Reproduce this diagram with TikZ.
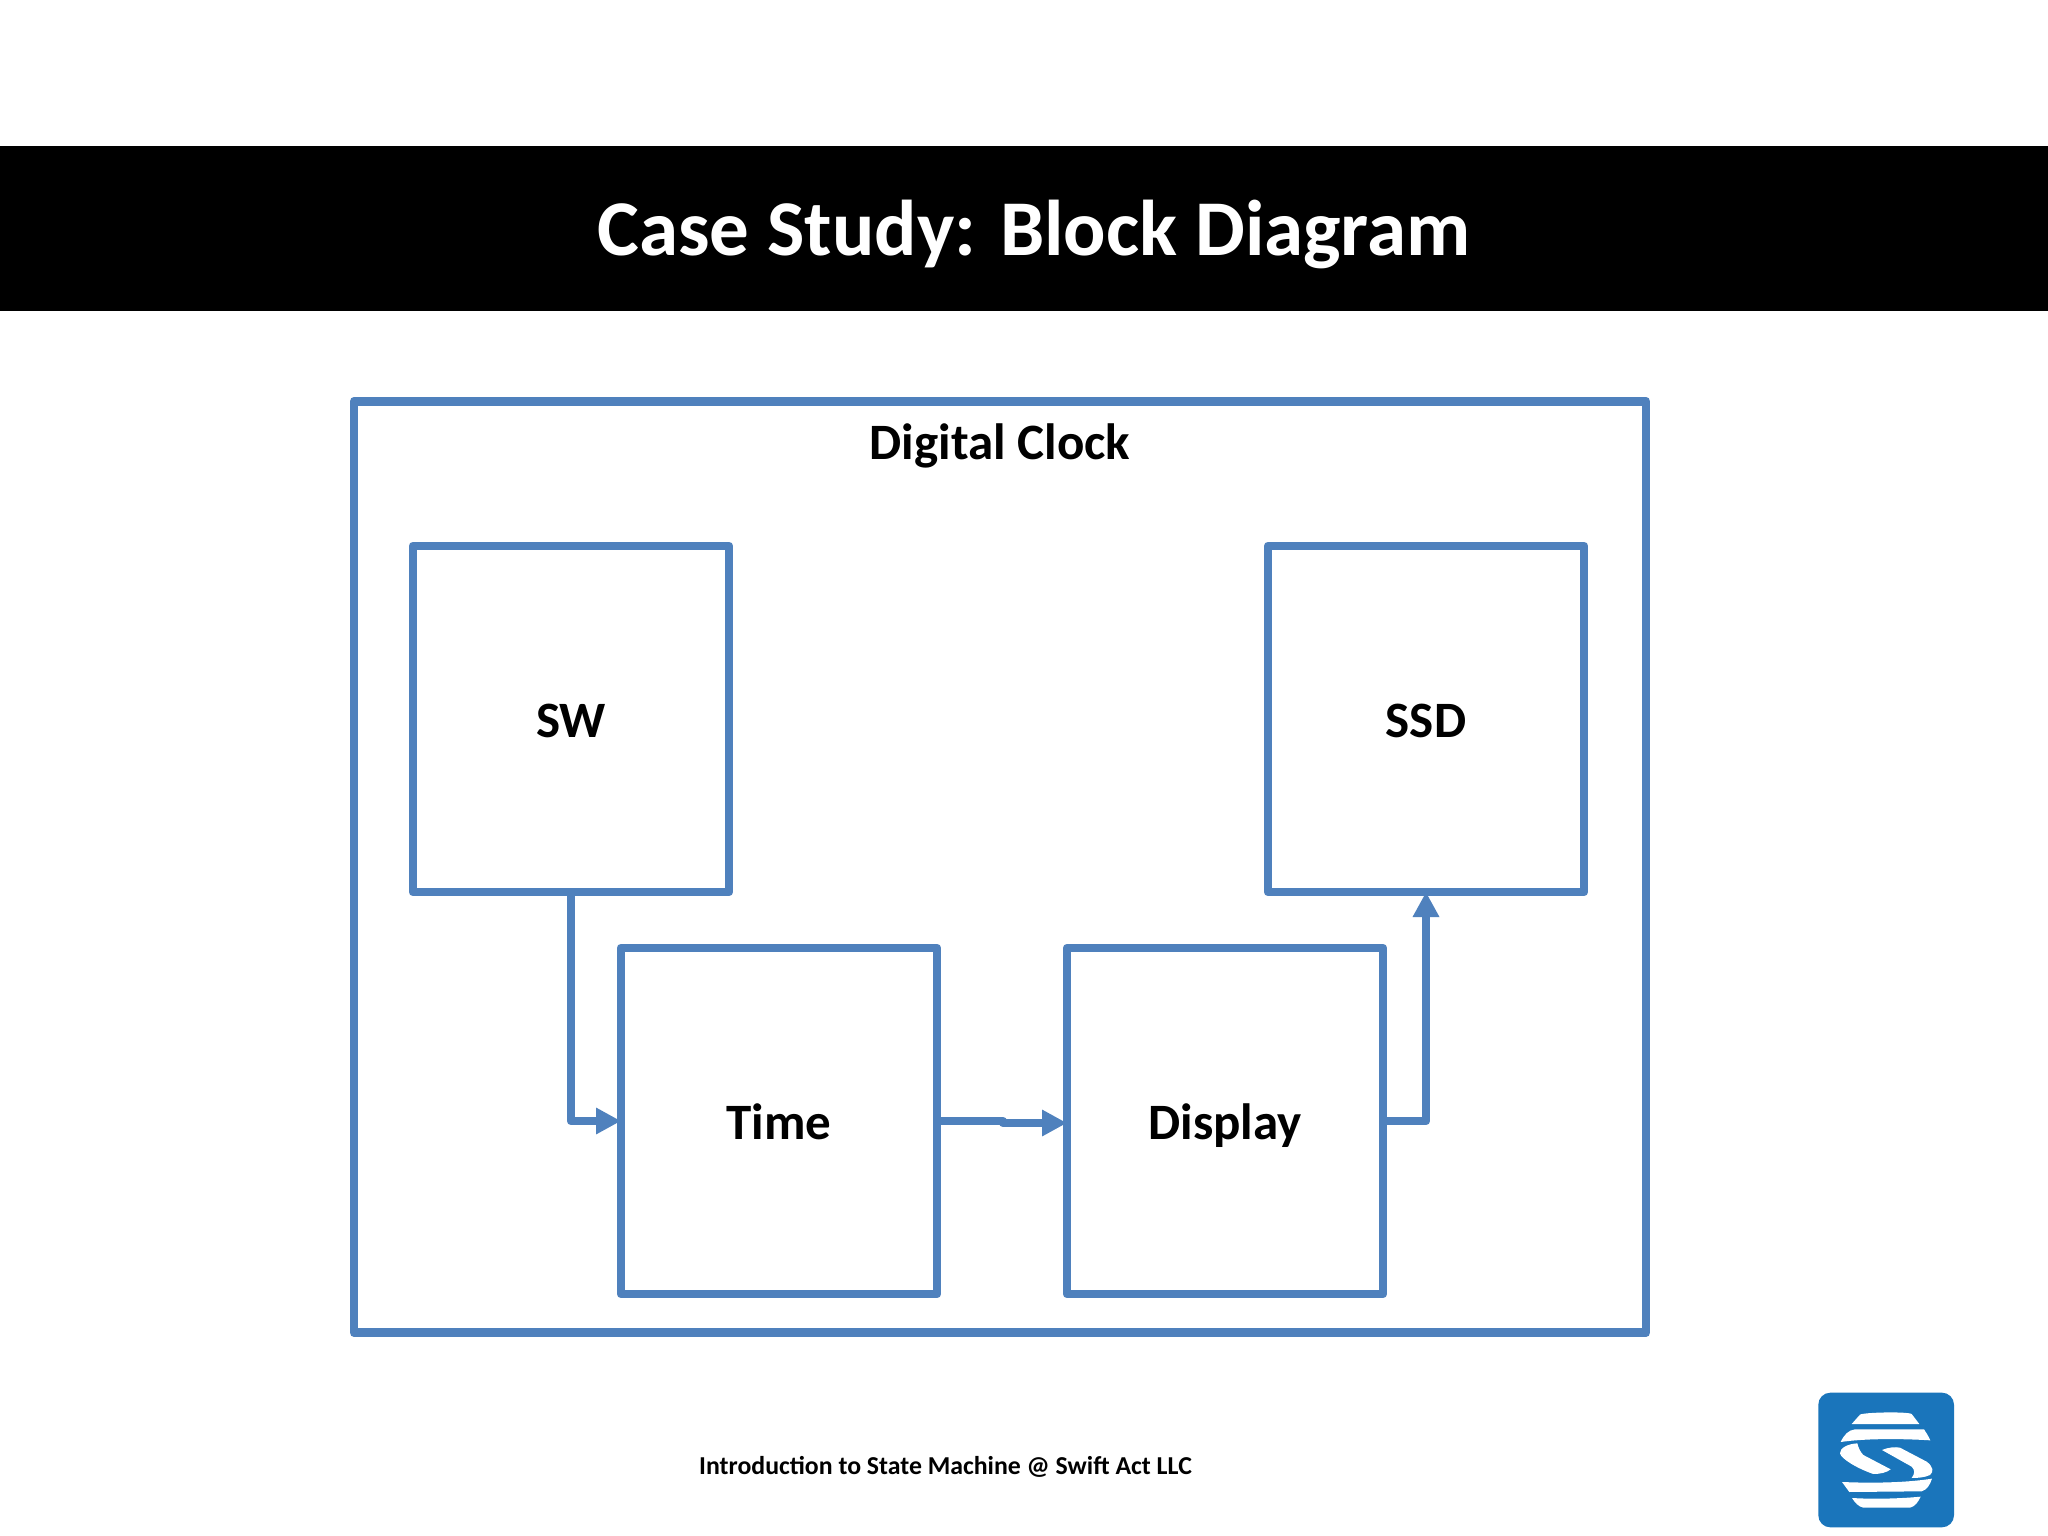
\documentclass[tikz,border=0pt]{standalone}
\usepackage{fontspec}
\setmainfont{Carlito}
\usetikzlibrary{arrows.meta}
\definecolor{blk}{HTML}{4F81BD}
\definecolor{logoblue}{HTML}{1A75BB}
\tikzset{
  blockbox/.style={draw=blk,line width=8.8pt,line join=round,outer sep=0pt,minimum width=316pt,minimum height=346pt,inner sep=0pt,font=\fontsize{51}{51}\selectfont\bfseries,text=black,text height=43pt,text depth=7pt},
  wire/.style={draw=blk,line width=8.8pt,line join=round,-{Triangle[length=25pt,width=25pt]}},
  logoshape/.style={fill=white,draw=none}
}
\begin{document}
\begin{tikzpicture}[x=1pt,y=-1pt]
\useasboundingbox (0,0) rectangle (2048,1536);
\fill[white] (0,0) rectangle (2048,1536);
\fill[black] (0,146) rectangle (2048,311);
\node[text=white,font=\fontsize{79}{79}\selectfont\bfseries,inner sep=0pt] (title) at (1034,234) {Case Study: Block Diagram};
\node[draw=blk,line width=8.8pt,line join=round,outer sep=0pt,minimum width=1292pt,minimum height=931.5pt,inner sep=0pt] (clock) at (1000,867) {};
\node[font=\fontsize{51}{51}\selectfont\bfseries,inner sep=0pt] (clocklabel) at (1000,446) {Digital Clock};
\node[blockbox] (sw) at (571,719) {SW};
\node[blockbox] (ssd) at (1426,719) {SSD};
\node[blockbox] (time) at (779,1121) {Time};
\node[blockbox] (display) at (1225,1121) {Display};
\coordinate (ja) at (1003,1121);
\coordinate (jb) at (1003,1123);
\draw[wire] (sw.south) |- (time.west);
\draw[wire] (time.east) -- (ja) -- (jb) -- (jb -| display.west);
\draw[wire] (display.east) -| (ssd.south);
\node[font=\fontsize{25.8}{26}\selectfont\bfseries,inner sep=0pt] (footer) at (945.5,1467) {Introduction to State Machine @ Swift Act LLC};
\begin{scope}[shift={(1780,1370)},x=0.3333pt,y=-0.3333pt]
\fill[logoblue,rounded corners=12pt] (115,68) rectangle (522,472);
\fill[logoshape] (215,162) -- (240,134) .. controls (250,127) and (380,124) .. (395,132) -- (418,162) -- cycle;
\fill[logoshape] (182,216) .. controls (192,195) and (205,180) .. (225,178) -- (432,178) .. controls (440,190) and (446,200) .. (451,211) .. controls (350,205) and (250,206) .. (182,216) -- cycle;
\fill[logoshape] (232,220) .. controls (200,222) and (180,235) .. (180,250) .. controls (182,265) and (230,295) .. (280,312) .. controls (300,312) and (320,308) .. (332,298) -- (250,255) .. controls (240,245) and (235,232) .. (232,220) -- cycle;
\fill[logoshape] (306,240) .. controls (325,232) and (345,230) .. (360,233) -- (440,275) .. controls (460,290) and (462,305) .. (450,315) .. controls (435,322) and (415,324) .. (395,324) .. controls (405,310) and (405,300) .. (395,290) -- cycle;
\fill[logoshape] (186,336) .. controls (280,340) and (380,338) .. (456,326) .. controls (450,345) and (440,360) .. (425,364) -- (208,366) -- cycle;
\fill[logoshape] (216,384) .. controls (280,388) and (360,386) .. (422,380) .. controls (415,395) and (405,410) .. (390,413) -- (250,413) .. controls (235,410) and (225,398) .. (216,384) -- cycle;
\end{scope}
\end{tikzpicture}
\end{document}
